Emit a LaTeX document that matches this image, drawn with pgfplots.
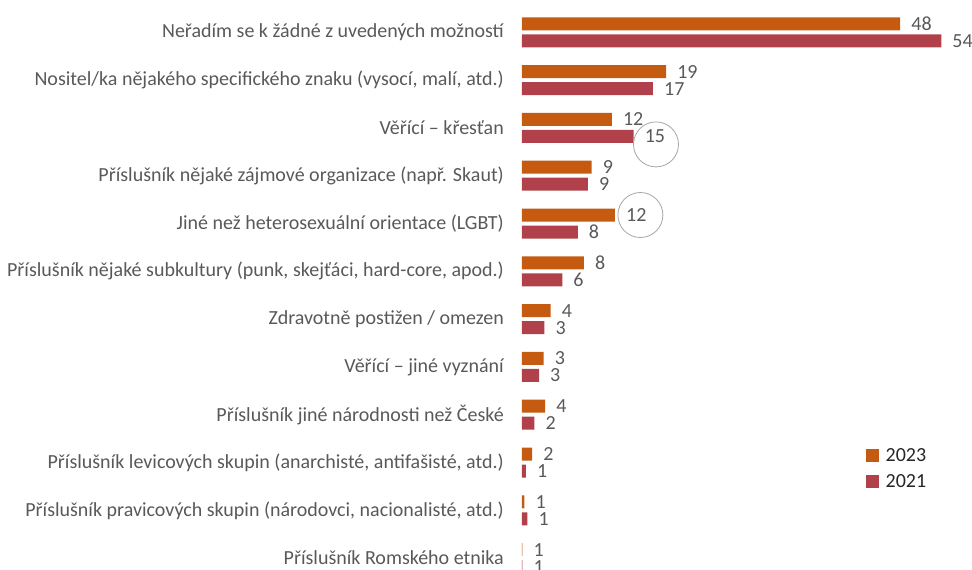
\documentclass[border=0pt]{standalone}
\usepackage{pgfplots}
\pgfplotsset{compat=1.18}
\usepackage{pgfplotstable}
\usepackage{fontspec}
\setmainfont{Carlito}
\definecolor{c23}{HTML}{C55A11}
\definecolor{c21}{HTML}{B0414A}
\definecolor{txt}{HTML}{595959}
\definecolor{circ}{HTML}{A6A6A6}

\pgfplotstableread{
y v23 l23 v21 l21
0 48.8 48 54.1 54
1 18.6 19 16.9 17
2 11.6 12 14.4 15
3 9.0 9 8.5 9
4 12.0 12 7.2 8
5 8.0 8 5.2 6
6 3.7 4 2.9 3
7 2.8 3 2.2 3
8 3.0 4 1.6 2
9 1.3 2 0.5 1
10 0.3 1 0.7 1
11 0.05 1 0.05 1
}\data

\pgfplotstableread{
y v
4 12.0
}\circA

\pgfplotstableread{
y v
2 14.4
}\circB

\begin{document}
\begin{tikzpicture}
\useasboundingbox (0,0) rectangle (972pt,-570pt);
\begin{axis}[
  at={(522pt,-8.4pt)}, anchor=north west,
  scale only axis, width=441.75pt, height=573.6pt,
  xmin=0, xmax=57, ymin=-0.5, ymax=11.5, y dir=reverse,
  xbar, bar width=13pt,
  axis line style={draw=none}, major tick length=0pt,
  xtick=\empty, ytick={0,...,11},
  yticklabels={
    {Neřadím se k žádné z uvedených možností},
    {Nositel/ka nějakého specifického znaku (vysocí, malí, atd.)},
    {Věřící – křesťan},
    {Příslušník nějaké zájmové organizace (např. Skaut)},
    {Jiné než heterosexuální orientace (LGBT)},
    {Příslušník nějaké subkultury (punk, skejťáci, hard-core, apod.)},
    {Zdravotně postižen / omezen},
    {Věřící – jiné vyznání},
    {Příslušník jiné národnosti než České},
    {Příslušník levicových skupin (anarchisté, antifašisté, atd.)},
    {Příslušník pravicových skupin (národovci, nacionalisté, atd.)},
    {Příslušník Romského etnika}},
  yticklabel style={font=\fontsize{20}{24}\selectfont, text=txt, inner sep=2pt, xshift=-16pt},
  clip=false,
  legend style={at={(axis description cs:0.7787,0.2371)}, anchor=north west,
    draw=none, fill=none, font=\fontsize{20}{24}\selectfont, text=black!85,
    row sep=8pt, inner sep=0pt,
    /tikz/every odd column/.append style={column sep=4.5pt}},
  legend cell align=left,
  legend image code/.code={\draw[#1, draw=none] (0pt,-6.5pt) rectangle (13pt,6.5pt);},
]
\addplot[fill=c23, draw=none, bar shift=8.5pt,
  nodes near coords, point meta=explicit symbolic,
  nodes near coords style={font=\fontsize{20}{24}\selectfont, text=txt, anchor=west, inner sep=2pt, xshift=9pt}]
  table[x=v23, y=y, meta=l23]{\data};
\addplot[fill=c21, draw=none, bar shift=-8.5pt,
  nodes near coords, point meta=explicit symbolic,
  nodes near coords style={font=\fontsize{20}{24}\selectfont, text=txt, anchor=west, inner sep=2pt, xshift=9pt}]
  table[x=v21, y=y, meta=l21]{\data};
\legend{2023,2021}
\addplot[fill=none, draw=none, bar shift=8.5pt, forget plot,
  nodes near coords={\strut},
  nodes near coords style={circle, draw=circ, line width=0.8pt, minimum size=45pt, inner sep=0pt, anchor=west, xshift=2.5pt}]
  table[x=v, y=y]{\circA};
\addplot[fill=none, draw=none, bar shift=-8.5pt, forget plot,
  nodes near coords={\strut},
  nodes near coords style={circle, draw=circ, line width=0.8pt, minimum size=45pt, inner sep=0pt, anchor=west, xshift=-0.5pt, yshift=-8pt}]
  table[x=v, y=y]{\circB};
\end{axis}
\end{tikzpicture}
\end{document}
